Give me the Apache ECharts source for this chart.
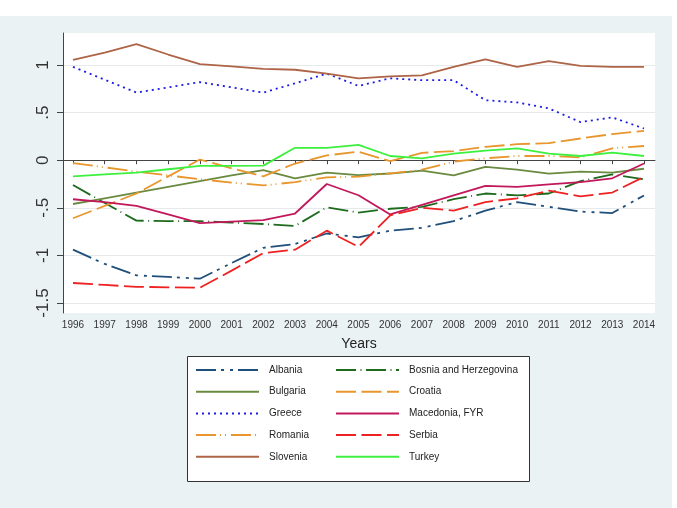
<!DOCTYPE html>
<html>
<head>
<meta charset="utf-8">
<script src="https://cdn.jsdelivr.net/npm/echarts@6/dist/echarts.min.js"></script>
<style>
  html, body { margin: 0; padding: 0; background: #fff; }
  #chart { position: absolute; left: 0; top: 16px; width: 672px; height: 492px; }
</style>
</head>
<body>
<div id="chart"></div>
<script>
const years = [1996, 1997, 1998, 1999, 2000, 2001, 2002, 2003, 2004, 2005, 2006, 2007, 2008, 2009, 2010, 2011, 2012, 2013, 2014];
const yTicks = [-1.5, -1, -0.5, 0, 0.5, 1];

const albania   = [-0.94, -1.09, -1.21, -1.225, -1.245, -1.08, -0.92, -0.88, -0.77, -0.81, -0.74, -0.71, -0.64, -0.53, -0.44, -0.49, -0.54, -0.555, -0.37];
const bosnia    = [-0.26, -0.45, -0.635, -0.64, -0.64, -0.655, -0.67, -0.69, -0.495, -0.55, -0.51, -0.49, -0.41, -0.35, -0.37, -0.35, -0.22, -0.15, -0.2];
const bulgaria  = [-0.46, -0.40, -0.34, -0.28, -0.22, -0.16, -0.105, -0.19, -0.13, -0.157, -0.14, -0.11, -0.16, -0.07, -0.10, -0.14, -0.12, -0.13, -0.09];
const croatia   = [-0.61, -0.48, -0.35, -0.17, 0.007, -0.085, -0.17, -0.035, 0.05, 0.09, -0.01, 0.077, 0.095, 0.14, 0.168, 0.18, 0.228, 0.274, 0.309];
const greece    = [0.98, 0.845, 0.71, 0.765, 0.82, 0.765, 0.71, 0.807, 0.91, 0.78, 0.86, 0.84, 0.84, 0.63, 0.607, 0.544, 0.40, 0.45, 0.333];
const macedonia = [-0.41, -0.44, -0.48, -0.57, -0.66, -0.645, -0.63, -0.56, -0.25, -0.368, -0.57, -0.47, -0.37, -0.27, -0.28, -0.255, -0.23, -0.19, -0.035];
const romania   = [-0.03, -0.075, -0.12, -0.16, -0.2, -0.235, -0.265, -0.23, -0.18, -0.173, -0.138, -0.1, -0.015, 0.02, 0.044, 0.044, 0.03, 0.125, 0.149];
const serbia    = [-1.29, -1.31, -1.33, -1.335, -1.34, -1.16, -0.975, -0.94, -0.74, -0.91, -0.58, -0.50, -0.53, -0.44, -0.40, -0.32, -0.38, -0.34, -0.175];
const slovenia  = [1.053, 1.13, 1.22, 1.11, 1.01, 0.985, 0.96, 0.95, 0.91, 0.86, 0.88, 0.89, 0.98, 1.06, 0.98, 1.04, 0.99, 0.98, 0.98];
const turkey    = [-0.17, -0.15, -0.13, -0.095, -0.06, -0.06, -0.057, 0.13, 0.13, 0.16, 0.044, 0.02, 0.07, 0.10, 0.125, 0.07, 0.044, 0.08, 0.044];

const font = "'Liberation Sans', Arial, sans-serif";

// name, values, colour, dash pattern
const lines = [
  ["Albania", albania, "#1f4f7a", [20, 5, 3, 6, 3, 5]],
  ["Bosnia and Herzegovina", bosnia, "#1d6b1d", [20, 4.5, 1, 4.5]],
  ["Bulgaria", bulgaria, "#6a8a40", "solid"],
  ["Croatia", croatia, "#e8962d", [20, 5.5]],
  ["Greece", greece, "#1c1ce6", [2, 4]],
  ["Macedonia, FYR", macedonia, "#c2185b", "solid"],
  ["Romania", romania, "#e8962d", [20, 4, 1, 4, 1, 5]],
  ["Serbia", serbia, "#ee2222", [20, 5.5]],
  ["Slovenia", slovenia, "#ae6446", "solid"],
  ["Turkey", turkey, "#3ef03e", "solid"]
];

const chart = echarts.init(document.getElementById("chart"));

const legendBase = {
  orient: "vertical",
  top: 349,
  padding: 0,
  itemWidth: 63,
  itemHeight: 12,
  itemGap: 11.7,
  selectedMode: false,
  itemStyle: { opacity: 0 },   // hide the circle, keep the line
  textStyle: { fontFamily: font, fontSize: 10, color: "#222", padding: [0, 0, 0, 5] }
};

chart.setOption({
  backgroundColor: "#eaf2f3",
  animation: false,
  grid: {
    left: 63, right: 17, top: 17, bottom: 195,
    show: true, backgroundColor: "#fff", borderWidth: 0
  },
  graphic: [{
    type: "rect",
    shape: { x: 187.5, y: 340.5, width: 342, height: 125 },
    style: { fill: "#fff", stroke: "#333", lineWidth: 1 }
  }],
  legend: [
    Object.assign({}, legendBase, { left: 195, data: ["Albania", "Bulgaria", "Greece", "Romania", "Slovenia"] }),
    Object.assign({}, legendBase, { left: 335, data: ["Bosnia and Herzegovina", "Croatia", "Macedonia, FYR", "Serbia", "Turkey"] })
  ],
  xAxis: {
    type: "value",
    min: 1995.685, max: 2014.347,
    name: "Years",
    nameLocation: "middle",
    nameGap: 24,
    nameTextStyle: { fontFamily: font, fontSize: 14, color: "#222" },
    axisLine: { lineStyle: { color: "#444", width: 1 } },
    axisTick: { length: 4, lineStyle: { color: "#444" }, customValues: years },
    axisLabel: { customValues: years, fontFamily: font, fontSize: 10, color: "#333", margin: 7, formatter: v => String(v) },
    splitLine: { show: false }
  },
  yAxis: {
    type: "value",
    min: -1.605, max: 1.336,
    axisLine: { show: true, lineStyle: { color: "#444", width: 1 } },
    axisTick: { show: true, length: 6, lineStyle: { color: "#444" }, customValues: yTicks },
    axisLabel: {
      customValues: yTicks, rotate: 90, margin: 11,
      fontFamily: font, fontSize: 17, color: "#333",
      formatter: v => v === 0 ? "0" : String(v).replace("0.", ".")
    },
    splitLine: { show: true, lineStyle: { color: "#e6eaec", width: 1 } }
  },
  series: lines.map(([name, vals, color, dash]) => ({
    name: name,
    type: "line",
    data: years.map((y, i) => [y, vals[i]]),
    symbol: "none",
    color: color,
    lineStyle: { color: color, width: 1.8, type: dash }
  }))
});
</script>
</body>
</html>
